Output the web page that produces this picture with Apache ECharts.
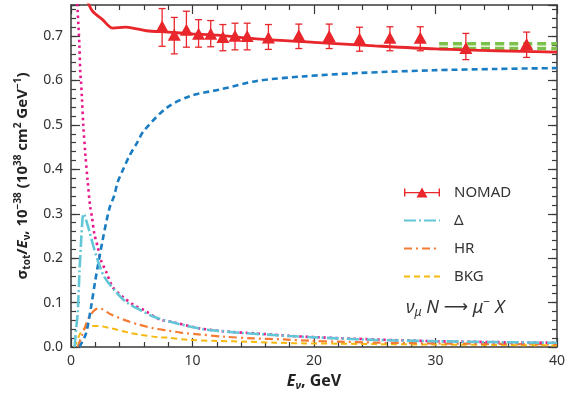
<!DOCTYPE html>
<html>
<head>
<meta charset="utf-8">
<script src="https://cdn.jsdelivr.net/npm/echarts@6/dist/echarts.min.js"></script>
<style>
  html, body { margin: 0; padding: 0; background: #fff; }
  #chart { width: 568px; height: 396px; }
</style>
</head>
<body>
<div id="chart"></div>
<script>
// NOMAD data points (E in GeV, sigma/E and error bar ends)
const nomadE = [7.5, 8.5, 9.5, 10.5, 11.5, 12.5, 13.5, 14.5, 16.25, 18.75, 21.25, 23.75, 26.25, 28.75, 32.5, 37.5];
const nomadY = [0.722, 0.703, 0.714, 0.705, 0.705, 0.698, 0.701, 0.700, 0.697, 0.702, 0.700, 0.694, 0.696, 0.696, 0.673, 0.682];
const nomadHi = [0.762, 0.742, 0.756, 0.737, 0.735, 0.726, 0.729, 0.729, 0.726, 0.727, 0.727, 0.720, 0.721, 0.721, 0.706, 0.709];
const nomadLo = [0.677, 0.660, 0.675, 0.675, 0.676, 0.667, 0.669, 0.669, 0.670, 0.672, 0.672, 0.666, 0.667, 0.667, 0.647, 0.652];

// theory curves, [E, sigma/E]
const totalCurve = [[1.4, 0.775], [1.78, 0.756], [2.6, 0.737], [3.43, 0.718], [4.5, 0.72], [5.1, 0.718], [6.2, 0.712],
  [8, 0.709], [10, 0.705], [12, 0.702], [15.6, 0.693], [20, 0.686], [25, 0.678], [30, 0.671], [35, 0.667], [40, 0.664]];
const disCurve = [[0.69, 0], [1.23, 0.03], [1.65, 0.09], [2.0, 0.15], [2.6, 0.24], [3.15, 0.311], [3.56, 0.341], [3.84, 0.371],
  [4.3, 0.40], [4.8, 0.43], [5.4, 0.458], [6.0, 0.487], [7.9, 0.539], [9.8, 0.565], [12.3, 0.58], [15.3, 0.599], [19, 0.609],
  [23.8, 0.617], [29.8, 0.623], [35, 0.626], [40, 0.628]];
const qeCurve = [[0.47, 0.80], [0.55, 0.756], [0.69, 0.68], [0.77, 0.614], [0.82, 0.6], [0.9, 0.561], [1.01, 0.50], [1.18, 0.434],
  [1.37, 0.374], [1.56, 0.32], [1.73, 0.292], [1.92, 0.255], [2.2, 0.225], [2.47, 0.195], [2.9, 0.169], [3.43, 0.135],
  [4.25, 0.113], [5.2, 0.094], [6.0, 0.083], [7.3, 0.062], [8.4, 0.056], [10.6, 0.042], [13.1, 0.034], [15, 0.031],
  [18, 0.025], [20.2, 0.022], [25, 0.017], [30, 0.013], [35, 0.011], [40, 0.0095]];
const deltaCurve = [[0.3, 0], [0.42, 0.04], [0.55, 0.076], [0.69, 0.165], [0.82, 0.232], [0.96, 0.292], [1.05, 0.300],
  [1.25, 0.285], [1.5, 0.262], [1.78, 0.233], [2.2, 0.195], [2.74, 0.158], [3.7, 0.124], [4.5, 0.102], [5.7, 0.083],
  [6.8, 0.068], [8.4, 0.055], [9.65, 0.047], [10.9, 0.040], [12.3, 0.036], [13.9, 0.032], [16.1, 0.028], [17.9, 0.0247],
  [19.9, 0.022], [21.9, 0.0195], [25, 0.016], [30, 0.013], [35, 0.011], [40, 0.0095]];
const hrCurve = [[0.55, 0], [0.96, 0.03], [1.5, 0.068], [2.0, 0.084], [2.33, 0.087], [3.3, 0.073], [4.5, 0.06], [5.5, 0.051],
  [6.8, 0.042], [8.0, 0.037], [9.1, 0.032], [10.3, 0.029], [12.7, 0.023], [15.0, 0.0195], [17.5, 0.017], [19.7, 0.014],
  [22, 0.012], [25, 0.010], [30, 0.008], [35, 0.007], [40, 0.006]];
const bkgCurve = [[0.25, 0], [0.41, 0.008], [0.82, 0.034], [1.1, 0.042], [1.6, 0.047], [2.33, 0.047], [3.3, 0.042],
  [4.8, 0.032], [5.6, 0.028], [7.2, 0.022], [8.0, 0.021], [9.7, 0.016], [12, 0.0135], [14.5, 0.012], [16.8, 0.0097],
  [19.3, 0.008], [22, 0.0075], [25, 0.0065], [30, 0.0055], [35, 0.0045], [40, 0.0035]];

// green band at high energy
const bandE = [30.3, 40];
const bandHi = [0.683, 0.683];
const bandLo = [0.672, 0.672];

const yTickLabels = ['0.0', '0.1', '0.2', '0.3', '0.4', '0.5', '0.6', '0.7'];
const xTickLabels = ['0', '10', '20', '30', '40'];

const FONT = 'Noto Sans';
const AXIS_COLOR = '#3a3a3a';

function yAxisDef(position, interval, tickLen, withLabels) {
  return {
    type: 'value', position, min: 0, max: 0.77, interval,
    axisLine: { show: withLabels, lineStyle: { color: AXIS_COLOR, width: 1.5 } },
    axisTick: { inside: true, length: tickLen, lineStyle: { color: AXIS_COLOR, width: 1.2 } },
    axisLabel: {
      show: withLabels && position === 'left', margin: 8, color: '#333', fontFamily: FONT, fontSize: 14,
      formatter: (v) => {
        const k = Math.round(v * 10);
        return Math.abs(v * 10 - k) < 1e-6 && yTickLabels[k] !== undefined ? yTickLabels[k] : '';
      }
    },
    splitLine: { show: false }
  };
}

function xAxisDef(position) {
  return {
    type: 'value', position, min: 0, max: 40, interval: 10,
    axisLine: { show: true, onZero: false, lineStyle: { color: AXIS_COLOR, width: 1.5 } },
    axisTick: { inside: true, length: 9, lineStyle: { color: AXIS_COLOR, width: 1.2 } },
    minorTick: { show: true, splitNumber: 5, length: 5, lineStyle: { color: AXIS_COLOR, width: 1.2 } },
    axisLabel: {
      show: position === 'bottom', margin: 7, color: '#333', fontFamily: FONT, fontSize: 14,
      formatter: (v) => xTickLabels[Math.round(v / 10)]
    },
    splitLine: { show: false }
  };
}

function curve(name, data, color, width, dash, z) {
  return {
    name, type: 'line', data, symbol: 'none', smooth: 0.3, z,
    lineStyle: { color, width, type: dash, cap: 'butt' },
    itemStyle: { color }
  };
}

const xAxes = [xAxisDef('bottom'), xAxisDef('top')];
xAxes[0].name = '{bi|E}{sub|ν}{b|, GeV}';
xAxes[0].nameLocation = 'middle';
xAxes[0].nameGap = 24;
xAxes[0].nameTextStyle = {
  color: '#222', fontFamily: FONT,
  rich: {
    b: { fontFamily: FONT, fontWeight: 'bold', fontSize: 16, lineHeight: 20, color: '#222' },
    bi: { fontFamily: FONT, fontWeight: 'bold', fontStyle: 'italic', fontSize: 16, lineHeight: 20, color: '#222' },
    sub: { fontFamily: FONT, fontWeight: 'bold', fontStyle: 'italic', fontSize: 11, lineHeight: 11, verticalAlign: 'bottom', color: '#222' }
  }
};

const yAxes = [
  yAxisDef('left', 0.1, 9, true),
  yAxisDef('left', 0.02, 5, false),
  yAxisDef('right', 0.1, 9, true),
  yAxisDef('right', 0.02, 5, false)
];
yAxes[0].name = '{b|σ}{sub|tot}{b|/}{bi|E}{sub|ν}{b|, 10}{sup|−38}{b| (10}{sup|38}{b| cm}{sup|2}{b| GeV}{sup|−1}{b|)}';
yAxes[0].nameLocation = 'middle';
yAxes[0].nameGap = 36;
yAxes[0].nameTextStyle = {
  color: '#222', fontFamily: FONT,
  rich: {
    b: { fontFamily: FONT, fontWeight: 'bold', fontSize: 15, lineHeight: 19, color: '#222' },
    bi: { fontFamily: FONT, fontWeight: 'bold', fontStyle: 'italic', fontSize: 15, lineHeight: 19, color: '#222' },
    sub: { fontFamily: FONT, fontWeight: 'bold', fontSize: 10, lineHeight: 10, verticalAlign: 'bottom', color: '#222' },
    sup: { fontFamily: FONT, fontWeight: 'bold', fontSize: 10, lineHeight: 10, verticalAlign: 'top', color: '#222' }
  }
};

const errorBars = nomadE.map((e, i) => [e, nomadLo[i], nomadHi[i]]);
// hide the round marker that line series put in their legend icon
const noMarker = { opacity: 0 };

const option = {
  animation: false,
  backgroundColor: '#fff',
  grid: { left: 71, right: 11, top: 5, bottom: 49, containLabel: false },
  xAxis: xAxes,
  yAxis: yAxes,
  legend: {
    orient: 'vertical', left: 398, top: 180,
    itemWidth: 36, itemHeight: 14, itemGap: 13,
    textStyle: { fontFamily: FONT, fontSize: 15, lineHeight: 14, color: '#333', padding: [0, 0, 0, 9] },
    data: [
      { name: 'NOMAD', icon: 'path://M0,3h1.4v8H0z M34.6,3H36v8h-1.4z M1.4,6.4h33.2v1.3H1.4z M12.5,12L18,2L23.5,12z' },
      { name: 'Δ', itemStyle: noMarker },
      { name: 'HR', itemStyle: noMarker },
      { name: 'BKG', itemStyle: noMarker }
    ]
  },
  graphic: [{
    type: 'text', left: 406, top: 297, z: 10,
    style: {
      text: '{i|ν}{sub|μ}{i| N }{n|⟶}{i| μ}{sup|−}{i| X}',
      rich: {
        i: { fontFamily: FONT, fontStyle: 'italic', fontSize: 18, lineHeight: 22, fill: '#333' },
        n: { fontFamily: 'DejaVu Sans', fontSize: 17, lineHeight: 22, fill: '#333' },
        sub: { fontFamily: FONT, fontStyle: 'italic', fontSize: 12, lineHeight: 12, verticalAlign: 'bottom', fill: '#333' },
        sup: { fontFamily: FONT, fontSize: 12, lineHeight: 12, verticalAlign: 'top', fill: '#333' }
      }
    }
  }],
  series: [
    curve('band-hi', bandE.map((e, i) => [e, bandHi[i]]), '#7cc24a', 3.5, [9, 5], 1),
    curve('band-lo', bandE.map((e, i) => [e, bandLo[i]]), '#7cc24a', 3.5, [9, 5], 1),
    curve('BKG', bkgCurve, '#f6b90f', 2, [6, 4], 2),
    curve('HR', hrCurve, '#f47c35', 2.2, [8, 4, 2, 4], 3),
    curve('QE', qeCurve, '#e8188c', 2.6, [2.5, 3.5], 4),
    curve('Δ', deltaCurve, '#62c6d6', 2.6, [12, 3, 2, 3], 5),
    curve('DIS', disCurve, '#1a7cc2', 2.6, [6, 4], 4),
    curve('total', totalCurve, '#e8262b', 2.8, 'solid', 6),
    {
      name: 'NOMAD', type: 'custom', z: 7,
      data: errorBars,
      encode: { x: 0, y: [1, 2] },
      itemStyle: { color: '#e8262b' },
      renderItem: (params, api) => {
        const lo = api.coord([api.value(0), api.value(1)]);
        const hi = api.coord([api.value(0), api.value(2)]);
        const cap = 3.5;
        const style = { stroke: '#e8262b', lineWidth: 1.3 };
        return {
          type: 'group',
          children: [
            { type: 'line', shape: { x1: lo[0], y1: lo[1], x2: hi[0], y2: hi[1] }, style },
            { type: 'line', shape: { x1: lo[0] - cap, y1: lo[1], x2: lo[0] + cap, y2: lo[1] }, style },
            { type: 'line', shape: { x1: hi[0] - cap, y1: hi[1], x2: hi[0] + cap, y2: hi[1] }, style }
          ]
        };
      }
    },
    {
      name: 'NOMAD', type: 'scatter', z: 8,
      data: nomadE.map((e, i) => [e, nomadY[i]]),
      symbol: 'triangle', symbolSize: [13, 12],
      itemStyle: { color: '#e8262b', opacity: 1 }
    }
  ]
};

const chart = echarts.init(document.getElementById('chart'));
chart.setOption(option);
</script>
</body>
</html>
